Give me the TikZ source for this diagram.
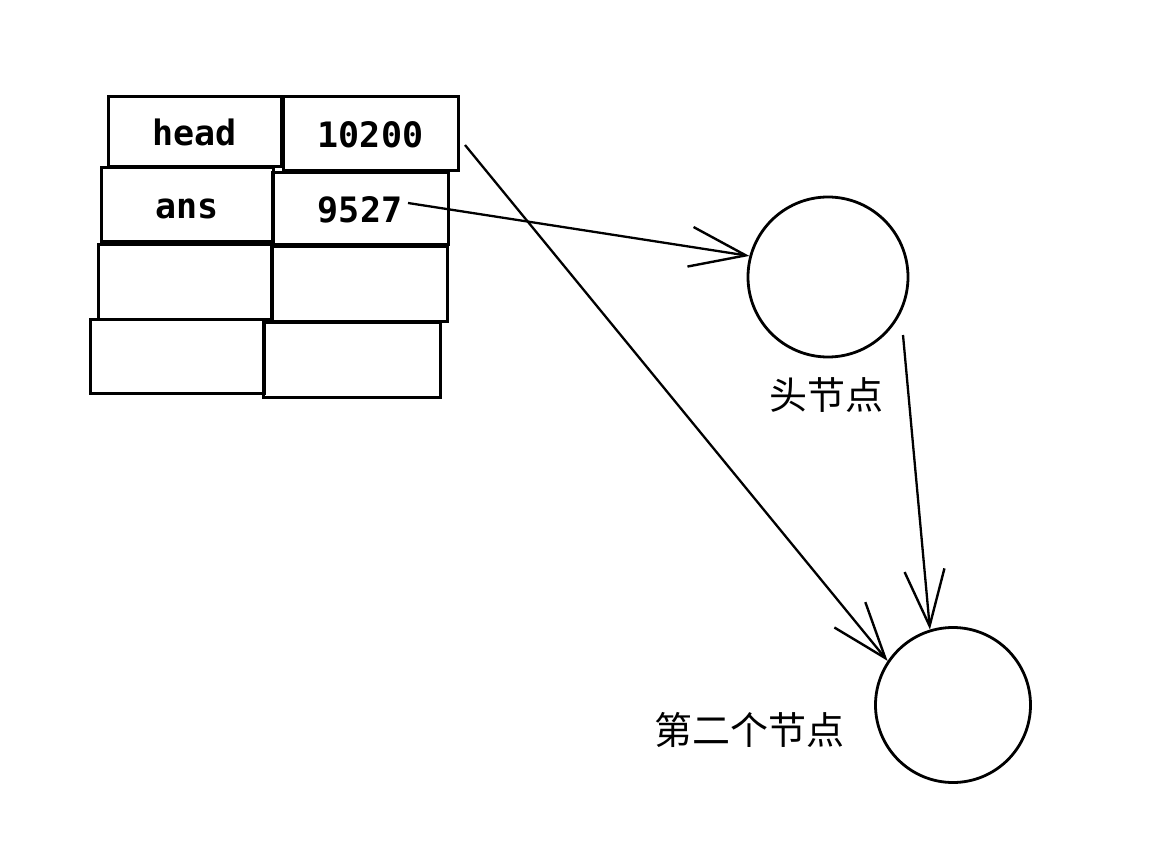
\documentclass[tikz,border=0pt]{standalone}
\usepackage{fontspec}
\newfontfamily\monob{DejaVu Sans Mono}[BoldFont={DejaVu Sans Mono Bold}]
\newfontfamily\cjk{Noto Sans CJK SC}
\usetikzlibrary{arrows.meta}
\begin{document}
\begin{tikzpicture}[x=1pt,y=-1pt,
  cell/.style={draw=black, line width=3pt, rectangle, inner sep=0pt,
    text height=28pt, text depth=0pt,
    font=\monob\bfseries\fontsize{35}{40}\selectfont},
  nodecirc/.style={draw=black, line width=2.8pt, circle, inner sep=0pt, minimum size=160pt},
  lbl/.style={font=\cjk\fontsize{38}{44}\selectfont, inner sep=0pt},
  conn/.style={draw=black, line width=2.3pt,
    -{Straight Barb[length=56pt, width=40pt, line width=2.4pt]}}
]
\useasboundingbox (0,0) rectangle (1162,850);
\fill[white] (0,0) rectangle (1162,850);

% table cells
\node[cell, minimum width=173pt, minimum height=70pt] (c11) at (194.5,132) {head};
\node[cell, minimum width=175pt, minimum height=74pt] (c12) at (370.5,134) {10200};
\node[cell, minimum width=172pt, minimum height=74pt] (c21) at (187,205) {ans};
\node[cell, minimum width=176pt, minimum height=72pt] (c22) at (360,209) {9527};
\node[cell, minimum width=173pt, minimum height=75pt] (c31) at (184.5,282.5) {};
\node[cell, minimum width=175pt, minimum height=75pt] (c32) at (359.5,284.5) {};
\node[cell, minimum width=174pt, minimum height=73pt] (c41) at (177,356.5) {};
\node[cell, minimum width=177pt, minimum height=74pt] (c42) at (351.5,360) {};

% list nodes
\node[nodecirc] (n1) at (828,277) {};
\node[nodecirc, minimum size=155pt] (n2) at (953,705) {};

\node[lbl] (l1) at (826,395) {头节点};
\node[lbl] (l2) at (749,730) {第二个节点};

% connector start points
\coordinate (a1) at (408,203);
\coordinate (a2) at (465,145);
\coordinate (a3) at (903,335);

\draw[conn] (a1) -- (n1.165);
\draw[conn] (a2) -- (n2.146);
\draw[conn] (a3) -- (n2.107);
\end{tikzpicture}
\end{document}
